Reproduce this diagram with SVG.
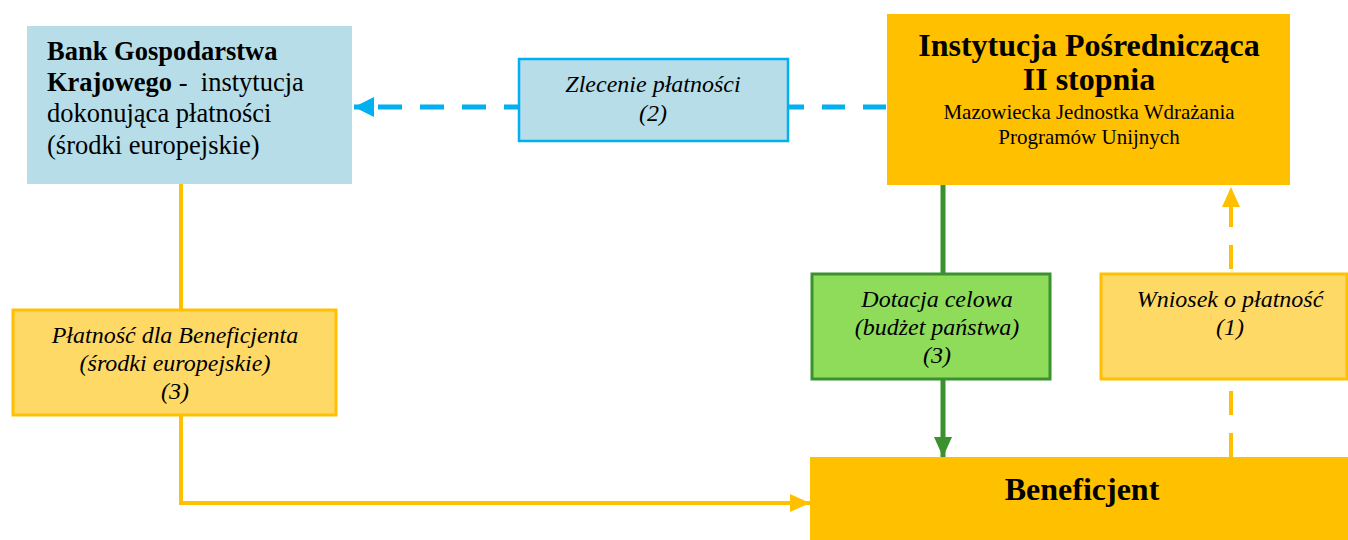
<svg xmlns="http://www.w3.org/2000/svg" width="1348" height="540" viewBox="0 0 1348 540">
<style>
text{font-family:"Liberation Serif","Times New Roman",serif;fill:#000}
.it{font-style:italic;font-size:24px}
.b{font-weight:bold}
.c{text-anchor:middle}
.bg{font-size:26.5px}
</style>
<defs>
<marker id="aBlue" markerUnits="userSpaceOnUse" markerWidth="22" markerHeight="20" refX="20" refY="10" orient="auto"><path d="M0,0 L20,10 L0,20 Z" fill="#00B0F0"/></marker>
<marker id="aGreen" markerUnits="userSpaceOnUse" markerWidth="22" markerHeight="18" refX="20" refY="9" orient="auto"><path d="M0,0 L20,9 L0,18 Z" fill="#3A922E"/></marker>
<marker id="aOrange" markerUnits="userSpaceOnUse" markerWidth="22" markerHeight="18" refX="20" refY="9" orient="auto"><path d="M0,0 L20,9 L0,18 Z" fill="#FFC000"/></marker>
</defs>
<rect width="1348" height="540" fill="#fff"/>
<g id="connectors" fill="none">
<path d="M886,107 H789" stroke="#00B0F0" stroke-width="5" stroke-dasharray="23,18"/>
<path d="M518,107 H354" stroke="#00B0F0" stroke-width="5" stroke-dasharray="24,18" stroke-dashoffset="10" marker-end="url(#aBlue)"/>
<path d="M943,185 V273" stroke="#3A922E" stroke-width="5"/>
<path d="M943,380 V457" stroke="#3A922E" stroke-width="5" marker-end="url(#aGreen)"/>
<path d="M1231,457 V380" stroke="#FFC000" stroke-width="4" stroke-dasharray="24,18"/>
<path d="M1231,273 V187" stroke="#FFC000" stroke-width="4" stroke-dasharray="24,18" stroke-dashoffset="-4" marker-end="url(#aOrange)"/>
<path d="M181,184 V309" stroke="#FFC000" stroke-width="4"/>
<path d="M181,416 V503 H810" stroke="#FFC000" stroke-width="4" marker-end="url(#aOrange)"/>
</g>
<g id="bgk">
<rect x="27" y="26" width="325" height="158" fill="#B7DDE8"/>
<text x="47" y="60" class="bg b">Bank Gospodarstwa</text>
<text x="47" y="91" class="bg"><tspan class="b">Krajowego</tspan> -&#160; instytucja</text>
<text x="47" y="122" class="bg">dokonująca płatności</text>
<text x="47" y="154" class="bg">(środki europejskie)</text>
</g>
<g id="zlecenie">
<rect x="519" y="59" width="269" height="82" fill="#B7DDE8" stroke="#00B0F0" stroke-width="2.5"/>
<text x="653" y="92" class="it c">Zlecenie płatności</text>
<text x="653" y="121" class="it c">(2)</text>
</g>
<g id="ip">
<rect x="887" y="14" width="403" height="171" fill="#FFC000"/>
<text x="1089" y="56" font-size="32" class="b c">Instytucja Pośrednicząca</text>
<text x="1089" y="90" font-size="32" class="b c">II stopnia</text>
<text x="1089" y="119" font-size="21" class="c">Mazowiecka Jednostka Wdrażania</text>
<text x="1089" y="144" font-size="21" class="c">Programów Unijnych</text>
</g>
<g id="dotacja">
<rect x="812" y="274" width="238" height="105" fill="#8FDC5A" stroke="#3A922E" stroke-width="3"/>
<text x="937" y="307" class="it c">Dotacja celowa</text>
<text x="937" y="335" class="it c">(budżet państwa)</text>
<text x="937" y="363" class="it c">(3)</text>
</g>
<g id="wniosek">
<rect x="1101" y="274" width="246" height="105" fill="#FFD966" stroke="#FFC000" stroke-width="3"/>
<text x="1230" y="307" class="it c">Wniosek o płatność</text>
<text x="1230" y="335" class="it c">(1)</text>
</g>
<g id="platnosc">
<rect x="13" y="310" width="323" height="105" fill="#FFD966" stroke="#FFC000" stroke-width="3"/>
<text x="175" y="343" class="it c">Płatność dla Beneficjenta</text>
<text x="175" y="371" class="it c">(środki europejskie)</text>
<text x="175" y="399" class="it c">(3)</text>
</g>
<g id="beneficjent">
<rect x="810" y="457" width="538" height="90" fill="#FFC000"/>
<text x="1082" y="500" font-size="32" class="b c">Beneficjent</text>
</g>
</svg>
